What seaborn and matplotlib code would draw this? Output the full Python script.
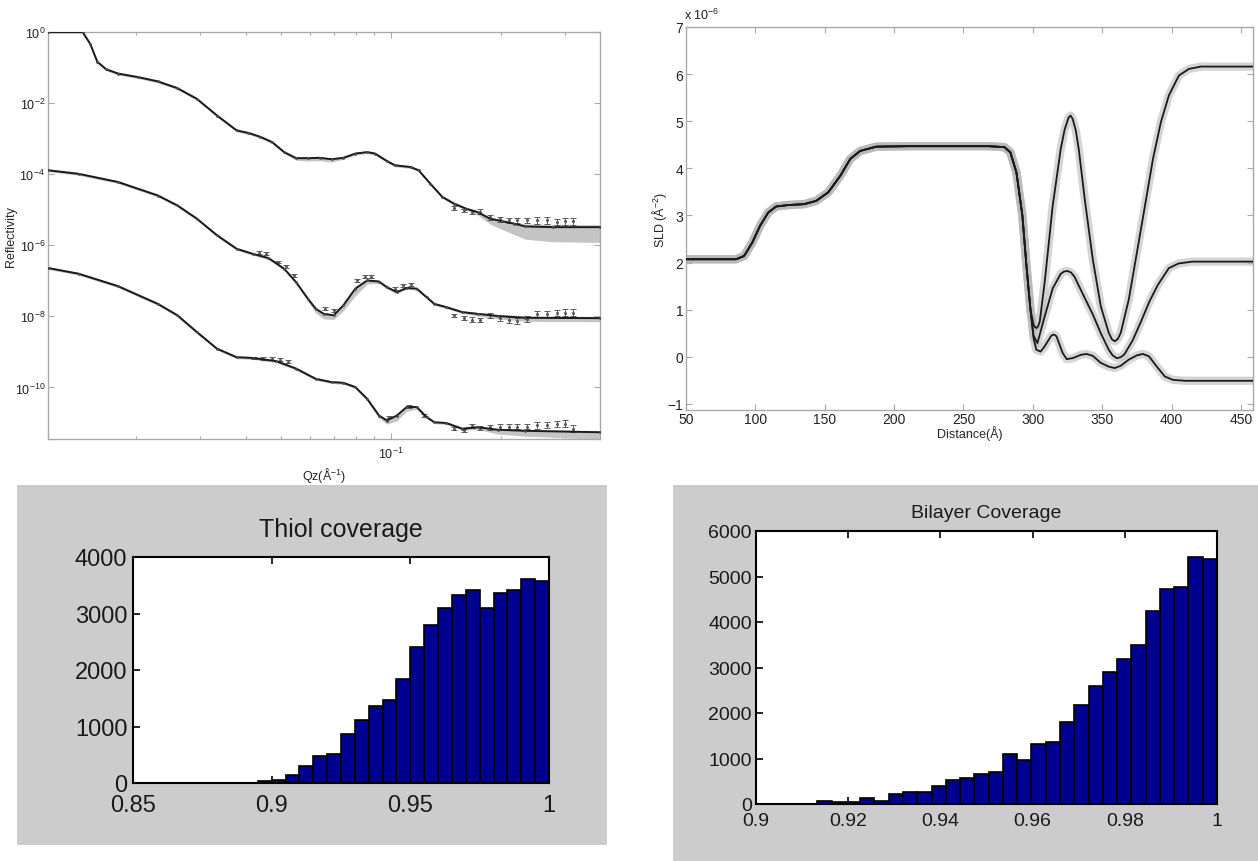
import numpy as np
import pandas as pd
import matplotlib
matplotlib.use("Agg")
import matplotlib.pyplot as plt
import seaborn as sns
from matplotlib.patches import Rectangle
from matplotlib.ticker import FixedLocator, FixedFormatter, NullLocator, NullFormatter

sns.set_style("ticks")
plt.rcParams['font.family'] = ['Liberation Sans', 'DejaVu Sans']
plt.rcParams['mathtext.fontset'] = 'custom'
plt.rcParams['mathtext.rm'] = 'Liberation Sans'
plt.rcParams['mathtext.it'] = 'Liberation Sans:italic'
plt.rcParams['mathtext.default'] = 'regular'

# ---- reflectivity (log10 R) ----
q_top = [0.0115, 0.0143, 0.0150, 0.0157, 0.0166, 0.0179, 0.0203, 0.0230, 0.0260, 0.0294,
         0.0334, 0.0378, 0.0407, 0.0439, 0.0473, 0.0510, 0.0550, 0.0592, 0.0638, 0.0688,
         0.0741, 0.0799, 0.0861, 0.0905, 0.0975, 0.1025, 0.1133, 0.1191, 0.1283, 0.1383,
         0.1490, 0.1607, 0.1730, 0.1866, 0.2010, 0.2168, 0.2336, 0.2780, 0.3740]
logr_top = [0, 0, -0.33, -0.84, -1.05, -1.17, -1.27, -1.39, -1.58, -1.88,
            -2.35, -2.77, -2.84, -2.95, -3.10, -3.38, -3.55, -3.55, -3.54, -3.58,
            -3.54, -3.42, -3.38, -3.42, -3.63, -3.75, -3.80, -3.89, -4.27, -4.64,
            -4.83, -4.97, -5.07, -5.25, -5.32, -5.39, -5.47, -5.49, -5.49]
lo_top = [0.04] * 16 + [0.06, 0.08, 0.08, 0.08] + [0.04] * 12 + [0.08, 0.15, 0.23, 0.30, 0.36, 0.41, 0.43]
hi_top = [0.04] * 36 + [0.07, 0.07, 0.07]

q_mid = [0.0115, 0.01394, 0.01788, 0.0230, 0.0260, 0.0294, 0.0334, 0.0378, 0.0418, 0.0462,
         0.0510, 0.0550, 0.0592, 0.0623, 0.0655, 0.0697, 0.0741, 0.0799, 0.0861, 0.0928,
         0.0975, 0.1038, 0.1105, 0.1176, 0.1252, 0.1316, 0.1418, 0.1567, 0.1730, 0.1960,
         0.2336, 0.3740]
logr_mid = [-3.89, -3.99, -4.22, -4.60, -4.88, -5.25, -5.72, -6.10, -6.24, -6.36,
            -6.66, -7.04, -7.50, -7.79, -7.93, -7.97, -7.69, -7.22, -6.99, -7.02,
            -7.18, -7.32, -7.20, -7.22, -7.46, -7.65, -7.74, -7.88, -7.93, -7.99,
            -8.04, -8.05]
lo_mid = [0.04] * 12 + [0.07, 0.12, 0.14, 0.12, 0.15, 0.20, 0.10, 0.05] + [0.04] * 8 + [0.06, 0.08, 0.10, 0.10]
hi_mid = [0.04] * 29 + [0.05, 0.05, 0.05]

q_bot = [0.0115, 0.01394, 0.01788, 0.0230, 0.0260, 0.0294, 0.0334, 0.0378, 0.0418, 0.0485,
         0.0550, 0.0623, 0.0688, 0.0741, 0.0799, 0.0861, 0.0928, 0.0975, 0.1038, 0.1105,
         0.1176, 0.1252, 0.1316, 0.1418, 0.1567, 0.1730, 0.1960, 0.2336, 0.3740]
logr_bot = [-6.64, -6.80, -7.15, -7.65, -7.97, -8.44, -8.91, -9.15, -9.17, -9.26,
            -9.47, -9.76, -9.85, -9.87, -9.99, -10.32, -10.79, -10.93, -10.79, -10.55,
            -10.55, -10.83, -10.98, -11.00, -11.16, -11.12, -11.19, -11.22, -11.26]
lo_bot = [0.04] * 15 + [0.06, 0.08, 0.10, 0.15, 0.12, 0.06] + [0.04] * 4 + [0.06, 0.12, 0.15, 0.20]
hi_bot = [0.04] * 29

# measured points at high q (with visible error bars)
qd_hi = [0.1490, 0.1586, 0.1668, 0.1753, 0.1866, 0.1986, 0.2113, 0.2222, 0.2365, 0.2517,
         0.2679, 0.2851, 0.2997, 0.3151]
logd_top_hi = [-4.95, -5.02, -5.07, -5.05, -5.21, -5.27, -5.30, -5.30, -5.30, -5.30,
               -5.30, -5.35, -5.33, -5.33]
logd_mid_hi = [-7.97, -8.05, -8.09, -8.11, -7.97, -8.05, -8.11, -8.14, -8.07, -7.93,
               -7.93, -7.90, -7.90, -7.90]
logd_bot_hi = [-11.16, -11.21, -11.09, -11.14, -11.12, -11.10, -11.10, -11.10, -11.10, -11.07,
               -11.05, -11.02, -11.02, -11.16]
err_hi = [0.05, 0.05, 0.06, 0.06, 0.07, 0.07, 0.08, 0.08, 0.08, 0.09, 0.09, 0.09, 0.10, 0.10]

qd_mid = [0.0434, 0.0456, 0.0491, 0.0516, 0.0543, 0.0662, 0.0697, 0.0809, 0.0850, 0.0883,
          0.1025, 0.1078, 0.1133]
logd_mid = [-6.21, -6.24, -6.47, -6.59, -6.85, -7.79, -7.83, -6.99, -6.88, -6.88,
            -7.22, -7.13, -7.10]
qd_bot = [0.0423, 0.0445, 0.0473, 0.0497, 0.0523, 0.0988, 0.1119, 0.1236]
logd_bot = [-9.17, -9.19, -9.19, -9.22, -9.27, -10.83, -10.53, -10.79]

# ---- SLD profiles (units of 1e-6 A^-2) ----
z_sub = [50, 86.1, 91.9, 97.7, 103.4, 109.2, 115.0, 123.6, 135.2, 143.9, 152.5, 161.2,
         168.4, 175.6, 187.2, 210.3, 268.0, 279.5, 283.8, 288.2, 292.5, 295.4, 298.3]
sld_sub = [2.07, 2.07, 2.14, 2.42, 2.78, 3.06, 3.19, 3.22, 3.24, 3.31, 3.49, 3.84,
           4.20, 4.37, 4.46, 4.47, 4.47, 4.45, 4.34, 3.91, 2.99, 1.93, 1.00]
z_a = [300.5, 301.6, 302.7, 303.8, 305.0, 308.5, 314.3, 320.1, 322.9, 325.8, 327.2, 328.7,
       331.0, 333.1, 337.4, 343.2, 349.0, 354.7, 357.0, 359.1, 361.3, 363.4, 369.2, 375.0,
       380.8, 386.6, 392.3, 398.1, 405.3, 412.5, 421.1, 458.7]
sld_a = [0.68, 0.63, 0.61, 0.65, 0.75, 1.57, 3.20, 4.41, 4.82, 5.08, 5.12, 5.05,
         4.80, 4.41, 3.35, 2.07, 1.07, 0.51, 0.37, 0.33, 0.38, 0.51, 1.22, 2.21,
         3.20, 4.20, 4.98, 5.55, 5.97, 6.11, 6.16, 6.16]
z_b = [300.5, 303.3, 308.5, 314.3, 320.1, 322.5, 325.0, 327.5, 330.0, 337.4, 343.2, 349.0,
       354.7, 357.5, 360.5, 363.3, 366.0, 372.0, 378.0, 384.0, 390.0, 398.0, 405.0, 415.0,
       458.7]
sld_b = [0.45, 0.29, 0.85, 1.45, 1.76, 1.81, 1.82, 1.79, 1.70, 1.25, 0.90, 0.50,
         0.15, 0.03, -0.03, -0.01, 0.05, 0.35, 0.75, 1.17, 1.52, 1.88, 1.98, 2.02,
         2.02]
z_c = [300.5, 302.5, 305.6, 308.5, 312.9, 313.9, 314.9, 316.0, 317.1, 321.5, 324.4, 328.7,
       334.5, 338.8, 343.2, 349.0, 354.7, 359.1, 363.4, 369.2, 375.0, 379.3, 383.7, 389.4,
       395.2, 401.0, 409.7, 458.7]
sld_c = [0.40, 0.15, 0.11, 0.22, 0.43, 0.46, 0.47, 0.46, 0.43, 0.08, -0.05, -0.03,
         0.04, 0.06, 0.02, -0.13, -0.21, -0.24, -0.19, -0.06, 0.03, 0.06, 0.01, -0.21,
         -0.42, -0.49, -0.51, -0.51]

# ---- histograms ----
thiol_counts = [30, 60, 140, 300, 485, 510, 860, 1115, 1365, 1470, 1843,
                2406, 2797, 3105, 3324, 3419, 3105, 3360, 3419, 3615, 3580]
bilayer_counts = [75, 50, 45, 125, 75, 215, 260, 260, 400, 530, 570, 655, 700, 1100,
                  960, 1320, 1365, 1805, 2165, 2600, 2910, 3185, 3490, 4245, 4715, 4770,
                  5430, 5395]

W, H = 1258, 862
fig = plt.figure(figsize=(W / 100, H / 100), dpi=100, facecolor='white')

def fr(x0, y0, x1, y1):
    return [x0 / W, 1 - y1 / H, (x1 - x0) / W, (y1 - y0) / H]

fig.add_artist(Rectangle((17 / W, 1 - 846 / H), 590 / W, 360 / H, transform=fig.transFigure,
                         facecolor='#cccccc', edgecolor='none', zorder=0))
fig.add_artist(Rectangle((673 / W, 0), 585 / W, 376 / H, transform=fig.transFigure,
                         facecolor='#cccccc', edgecolor='none', zorder=0))

grey_axis = '#a9a9a9'

def matlab_top(ax, size=10):
    for s in ax.spines.values():
        s.set_color(grey_axis)
        s.set_linewidth(1.0)
    ax.tick_params(which='both', direction='in', top=True, right=True, color=grey_axis,
                   labelcolor='#222222', labelsize=size, length=4, width=0.8)
    ax.tick_params(which='minor', length=2.5)

# ---------- top-left: reflectivity ----------
ax1 = fig.add_axes(fr(48, 33, 600, 440))
ax1.set_xscale('log')
ax1.set_yscale('log')
curves = [(q_top, logr_top, lo_top, hi_top), (q_mid, logr_mid, lo_mid, hi_mid),
          (q_bot, logr_bot, lo_bot, hi_bot)]
for q, lr, lo, hi in curves:
    lr = np.array(lr)
    ax1.fill_between(q, 10 ** (lr - np.array(lo)), 10 ** (lr + np.array(hi)),
                     color='#c4c4c4', linewidth=0, zorder=1)
for qd, ld, e in [(qd_hi, logd_top_hi, err_hi), (qd_hi, logd_mid_hi, err_hi),
                  (qd_hi, logd_bot_hi, err_hi), (qd_mid, logd_mid, [0.04] * len(qd_mid)),
                  (qd_bot, logd_bot, [0.04] * len(qd_bot))]:
    ld = np.array(ld)
    e = np.array(e)
    yv = 10 ** ld
    ax1.errorbar(qd, yv, yerr=[yv - 10 ** (ld - e), 10 ** (ld + e) - yv], fmt='.',
                 color='#5a5a5a', ms=2.5, elinewidth=0.7, capsize=2, capthick=0.7, zorder=2)
for q, lr, lo, hi in curves:
    sns.lineplot(x=q, y=10 ** np.array(lr), ax=ax1, color='#1a1a1a', linewidth=1.4,
                 sort=False, estimator=None, zorder=3)
    ax1.plot(q, 10 ** np.array(lr), '.', color='#4a4a4a', ms=2, zorder=3)
ax1.set_xlim(0.0115, 0.374)
ax1.set_ylim(10 ** -11.45, 1.0)
ax1.yaxis.set_major_locator(FixedLocator([1e0, 1e-2, 1e-4, 1e-6, 1e-8, 1e-10]))
ax1.yaxis.set_major_formatter(FixedFormatter(['10$^{0}$', '10$^{-2}$', '10$^{-4}$',
                                              '10$^{-6}$', '10$^{-8}$', '10$^{-10}$']))
ax1.yaxis.set_minor_locator(NullLocator())
ax1.xaxis.set_major_locator(FixedLocator([0.1]))
ax1.xaxis.set_major_formatter(FixedFormatter(['10$^{-1}$']))
ax1.xaxis.set_minor_locator(FixedLocator([0.02, 0.03, 0.04, 0.05, 0.06, 0.07, 0.08, 0.09, 0.2, 0.3]))
ax1.xaxis.set_minor_formatter(NullFormatter())
matlab_top(ax1, size=9)
ax1.tick_params(axis='y', pad=2)
ax1.tick_params(axis='x', pad=5)
ax1.set_ylabel('Reflectivity', fontsize=9)
ax1.set_xlabel('Qz(Å$^{-1}$)', fontsize=9)
ax1.yaxis.set_label_coords(-0.056, 0.5)
ax1.xaxis.set_label_coords(0.5, -0.063)

# ---------- top-right: SLD ----------
ax2 = fig.add_axes(fr(686, 28, 1253, 411))
for z, s in [(z_a, sld_a), (z_b, sld_b), (z_c, sld_c)]:
    ax2.plot(z_sub + z, sld_sub + s, color='#b4b4b4', linewidth=6, alpha=0.55,
             solid_capstyle='butt', solid_joinstyle='round', zorder=1)
for z, s in [(z_a, sld_a), (z_b, sld_b), (z_c, sld_c)]:
    sns.lineplot(x=z_sub + z, y=sld_sub + s, ax=ax2, color='#1a1a1a', linewidth=1.3,
                 sort=False, estimator=None, zorder=3)
ax2.set_xlim(50, 458.7)
ax2.set_ylim(-1.13, 7)
ax2.set_xticks(range(50, 451, 50))
ax2.set_yticks(range(-1, 8))
matlab_top(ax2)
ax2.tick_params(axis='y', pad=2)
ax2.tick_params(axis='x', pad=1.5)
ax2.set_ylabel('SLD (Å$^{-2}$)', fontsize=9)
ax2.set_xlabel('Distance(Å)', fontsize=9)
ax2.yaxis.set_label_coords(-0.03, 0.5)
ax2.xaxis.set_label_coords(0.5, -0.04)
ax2.text(-0.004, 1.014, 'x 10$^{-6}$', transform=ax2.transAxes, fontsize=9,
         ha='left', va='bottom', color='#222222')

# ---------- bottom histograms ----------
def matlab_hist(ax, size):
    ax.set_facecolor('white')
    for s in ax.spines.values():
        s.set_color('black')
        s.set_linewidth(1.5)
        s.set_visible(True)
    ax.tick_params(direction='in', top=True, right=True, length=5, width=1.2,
                   labelsize=size, labelcolor='#1a1a1a', color='black')
    ax.set_xlabel('')
    ax.set_ylabel('')

ax3 = fig.add_axes(fr(133, 558, 549, 784))
edges3 = np.linspace(0.895, 1.0, len(thiol_counts) + 1).tolist()
thiol_df = pd.DataFrame({'coverage': [(a + b) / 2 for a, b in zip(edges3[:-1], edges3[1:])],
                         'count': thiol_counts})
sns.histplot(data=thiol_df, x='coverage', weights='count', bins=edges3, ax=ax3,
             color='#000090', edgecolor='black', linewidth=1.2, alpha=1)
ax3.set_xlim(0.85, 1.0)
ax3.set_ylim(0, 4000)
ax3.set_xticks([0.85, 0.9, 0.95, 1.0])
ax3.set_xticklabels(['0.85', '0.9', '0.95', '1'])
ax3.set_yticks([0, 1000, 2000, 3000, 4000])
matlab_hist(ax3, 17)
ax3.tick_params(axis='x', pad=8)
ax3.tick_params(axis='y', pad=4)
ax3.set_title('Thiol coverage', fontsize=18, pad=15, color='#1a1a1a')

ax4 = fig.add_axes(fr(756, 532, 1217, 805))
edges4 = np.linspace(0.9133, 1.0, len(bilayer_counts) + 1).tolist()
bilayer_df = pd.DataFrame({'coverage': [(a + b) / 2 for a, b in zip(edges4[:-1], edges4[1:])],
                           'count': bilayer_counts})
sns.histplot(data=bilayer_df, x='coverage', weights='count', bins=edges4, ax=ax4,
             color='#000090', edgecolor='black', linewidth=1.2, alpha=1)
ax4.set_xlim(0.9, 1.0)
ax4.set_ylim(0, 6000)
ax4.set_xticks([0.9, 0.92, 0.94, 0.96, 0.98, 1.0])
ax4.set_xticklabels(['0.9', '0.92', '0.94', '0.96', '0.98', '1'])
ax4.set_yticks([0, 1000, 2000, 3000, 4000, 5000, 6000])
matlab_hist(ax4, 14)
ax4.tick_params(axis='x', pad=6)
ax4.tick_params(axis='y', pad=3)
ax4.set_title('Bilayer Coverage', fontsize=14, pad=10, color='#1a1a1a')

fig.savefig('out.png', dpi=100, facecolor='white')
